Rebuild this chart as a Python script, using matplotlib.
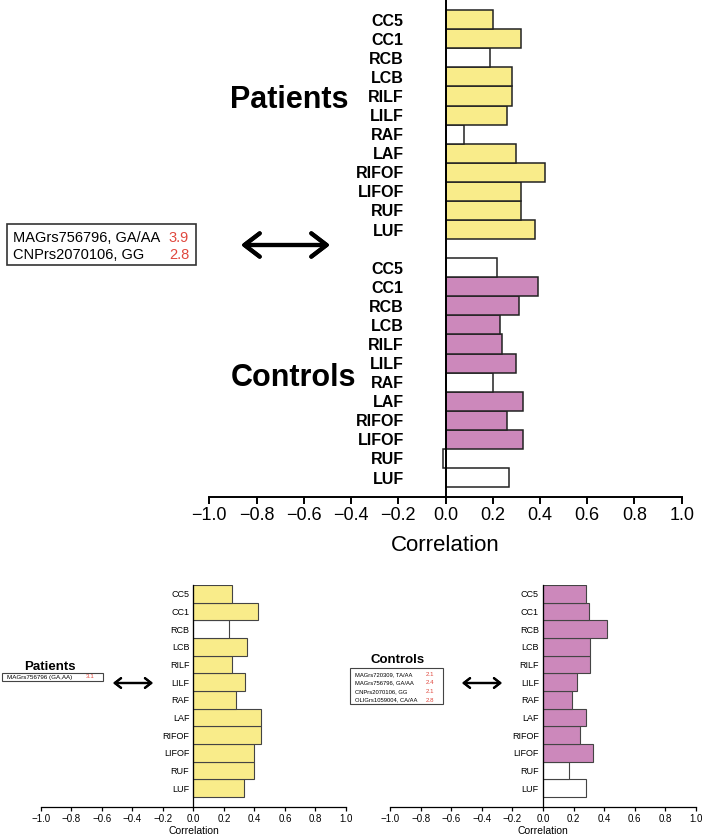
import matplotlib.pyplot as plt
from matplotlib.patches import Rectangle

plt.rcParams['font.family'] = ['Liberation Sans', 'DejaVu Sans']

# tracts, listed bottom to top
regions = ['LUF', 'RUF', 'LIFOF', 'RIFOF', 'LAF', 'RAF', 'LILF', 'RILF', 'LCB', 'RCB', 'CC1', 'CC5']

# top panel
top_patients = [0.38, 0.32, 0.32, 0.42, 0.30, 0.08, 0.26, 0.28, 0.28, 0.19, 0.32, 0.20]
top_patients_sig = [1, 1, 1, 1, 1, 0, 1, 1, 1, 0, 1, 1]
top_controls = [0.27, -0.01, 0.33, 0.26, 0.33, 0.20, 0.30, 0.24, 0.23, 0.31, 0.39, 0.22]
top_controls_sig = [0, 0, 1, 1, 1, 0, 1, 1, 1, 1, 1, 0]

# bottom panels
left_patients = [0.33, 0.40, 0.40, 0.44, 0.44, 0.28, 0.34, 0.25, 0.35, 0.23, 0.42, 0.25]
left_patients_sig = [1, 1, 1, 1, 1, 1, 1, 1, 1, 0, 1, 1]
right_controls = [0.28, 0.17, 0.33, 0.24, 0.28, 0.19, 0.22, 0.31, 0.31, 0.42, 0.30, 0.28]
right_controls_sig = [0, 0, 1, 1, 1, 1, 1, 1, 1, 1, 1, 1]

top_snps = ['MAGrs756796, GA/AA', 'CNPrs2070106, GG']
top_scores = ['3.9', '2.8']
left_snps = ['MAGrs756796 (GA,AA)']
left_scores = ['3.1']
right_snps = ['MAGrs720309, TA/AA', 'MAGrs756796, GA/AA', 'CNPrs2070106, GG', 'OLIGrs1059004, CA/AA']
right_scores = ['2.1', '2.4', '2.1', '2.8']

ticks = [-1.0, -0.8, -0.6, -0.4, -0.2, 0.0, 0.2, 0.4, 0.6, 0.8, 1.0]

yellow = '#F9EC8A'
pink = '#CC88BB'
red = '#E0483E'

W, H = 702, 839
fig = plt.figure(figsize=(W / 100, H / 100), dpi=100)


def px(x, y):
    return x / W, 1 - y / H


def setup_axis(ax, ylim, lab_size, lab_pad, bold, tick_size, tick_len, lw):
    ax.set_xlim(-1, 1)
    ax.set_ylim(*ylim)
    for s in ['top', 'right']:
        ax.spines[s].set_visible(False)
    ax.spines['left'].set_position(('data', 0))
    ax.spines['left'].set_linewidth(lw)
    ax.spines['bottom'].set_linewidth(lw)
    ax.set_xticks(ticks)
    ax.set_xticklabels([f'{t:.1f}'.replace('-', '\u2212') for t in ticks])
    ax.tick_params(axis='x', labelsize=tick_size, length=tick_len, width=lw, pad=2)
    ax.tick_params(axis='y', length=0, pad=lab_pad, labelsize=lab_size)
    if bold:
        for t in ax.get_yticklabels():
            t.set_fontweight('bold')
    ax.patch.set_alpha(0)


def bars(ax, pos, vals, sig, color, lw, ec):
    cols = [color if s else 'white' for s in sig]
    ax.barh(pos, vals, height=1.0, color=cols, edgecolor=ec, linewidth=lw, zorder=2)


# ---- top panel ----
ax = fig.add_axes([209.3 / W, 1 - 497 / H, 472.4 / W, 497 / H])
pos_c = list(range(0, 12))
pos_p = list(range(13, 25))
bars(ax, pos_p, top_patients, top_patients_sig, yellow, 1.1, '#222222')
bars(ax, pos_c, top_controls, top_controls_sig, pink, 1.1, '#222222')
ax.set_yticks(pos_c + pos_p)
ax.set_yticklabels(regions + regions)
setup_axis(ax, (-1.02, 25.03), 11.5, 30, True, 13, 5, 1.4)
ax.set_xlabel('Correlation', fontsize=16, labelpad=8)

fig.text(*px(289, 100), 'Patients', fontsize=22, fontweight='bold', ha='center', va='center')
fig.text(*px(293, 378), 'Controls', fontsize=22, fontweight='bold', ha='center', va='center')

fig.patches.append(Rectangle(px(7, 265), 189 / W, 41 / H, transform=fig.transFigure,
                             fill=False, edgecolor='#333333', linewidth=1.2))
for i, (s, v) in enumerate(zip(top_snps, top_scores)):
    fig.text(*px(13, 238 + 17 * i), s, fontsize=10.5, ha='left', va='center')
    fig.text(*px(189, 238 + 17 * i), v, fontsize=10.5, ha='right', va='center', color=red)
fig.add_artist(plt.annotate('', xy=px(330, 245), xytext=px(241, 245), xycoords='figure fraction',
                            arrowprops=dict(arrowstyle='<->,head_length=0.55,head_width=0.42',
                                            lw=3, color='black', mutation_scale=20,
                                            shrinkA=0, shrinkB=0)))

# ---- bottom panels ----
ylim_b = (-1.06, 11.51)
pos_b = list(range(12))

axl = fig.add_axes([41 / W, 1 - 806.7 / H, 305 / W, 221.7 / H])
bars(axl, pos_b, left_patients, left_patients_sig, yellow, 0.8, '#444444')
axl.set_yticks(pos_b)
axl.set_yticklabels(regions)
setup_axis(axl, ylim_b, 6.5, 3, False, 7, 3, 0.9)
axl.set_xlabel('Correlation', fontsize=7.5, labelpad=2)

axr = fig.add_axes([390 / W, 1 - 806.7 / H, 306 / W, 221.7 / H])
bars(axr, pos_b, right_controls, right_controls_sig, pink, 0.8, '#444444')
axr.set_yticks(pos_b)
axr.set_yticklabels(regions)
setup_axis(axr, ylim_b, 6.5, 3, False, 7, 3, 0.9)
axr.set_xlabel('Correlation', fontsize=7.5, labelpad=2)

fig.text(*px(50, 667), 'Patients', fontsize=9.5, fontweight='bold', ha='center', va='center')
fig.patches.append(Rectangle(px(2, 681), 101 / W, 8.5 / H, transform=fig.transFigure,
                             fill=False, edgecolor='#444444', linewidth=0.8))
fig.text(*px(7, 677), left_snps[0], fontsize=4.5, ha='left', va='center')
fig.text(*px(95, 677), left_scores[0], fontsize=4.5, ha='right', va='center', color=red)
fig.add_artist(plt.annotate('', xy=px(153, 683), xytext=px(113, 683), xycoords='figure fraction',
                            arrowprops=dict(arrowstyle='<->,head_length=0.45,head_width=0.35',
                                            lw=1.6, color='black', mutation_scale=10,
                                            shrinkA=0, shrinkB=0)))

fig.text(*px(398, 660), 'Controls', fontsize=9.5, fontweight='bold', ha='center', va='center')
fig.patches.append(Rectangle(px(350, 704), 93 / W, 36 / H, transform=fig.transFigure,
                             fill=False, edgecolor='#444444', linewidth=0.8))
for i, (s, v) in enumerate(zip(right_snps, right_scores)):
    fig.text(*px(355, 674.5 + 8.5 * i), s, fontsize=4.2, ha='left', va='center')
    fig.text(*px(434, 674.5 + 8.5 * i), v, fontsize=4.4, ha='right', va='center', color=red)
fig.add_artist(plt.annotate('', xy=px(502, 683), xytext=px(462, 683), xycoords='figure fraction',
                            arrowprops=dict(arrowstyle='<->,head_length=0.45,head_width=0.35',
                                            lw=1.6, color='black', mutation_scale=10,
                                            shrinkA=0, shrinkB=0)))

fig.savefig('out.png', dpi=100)
